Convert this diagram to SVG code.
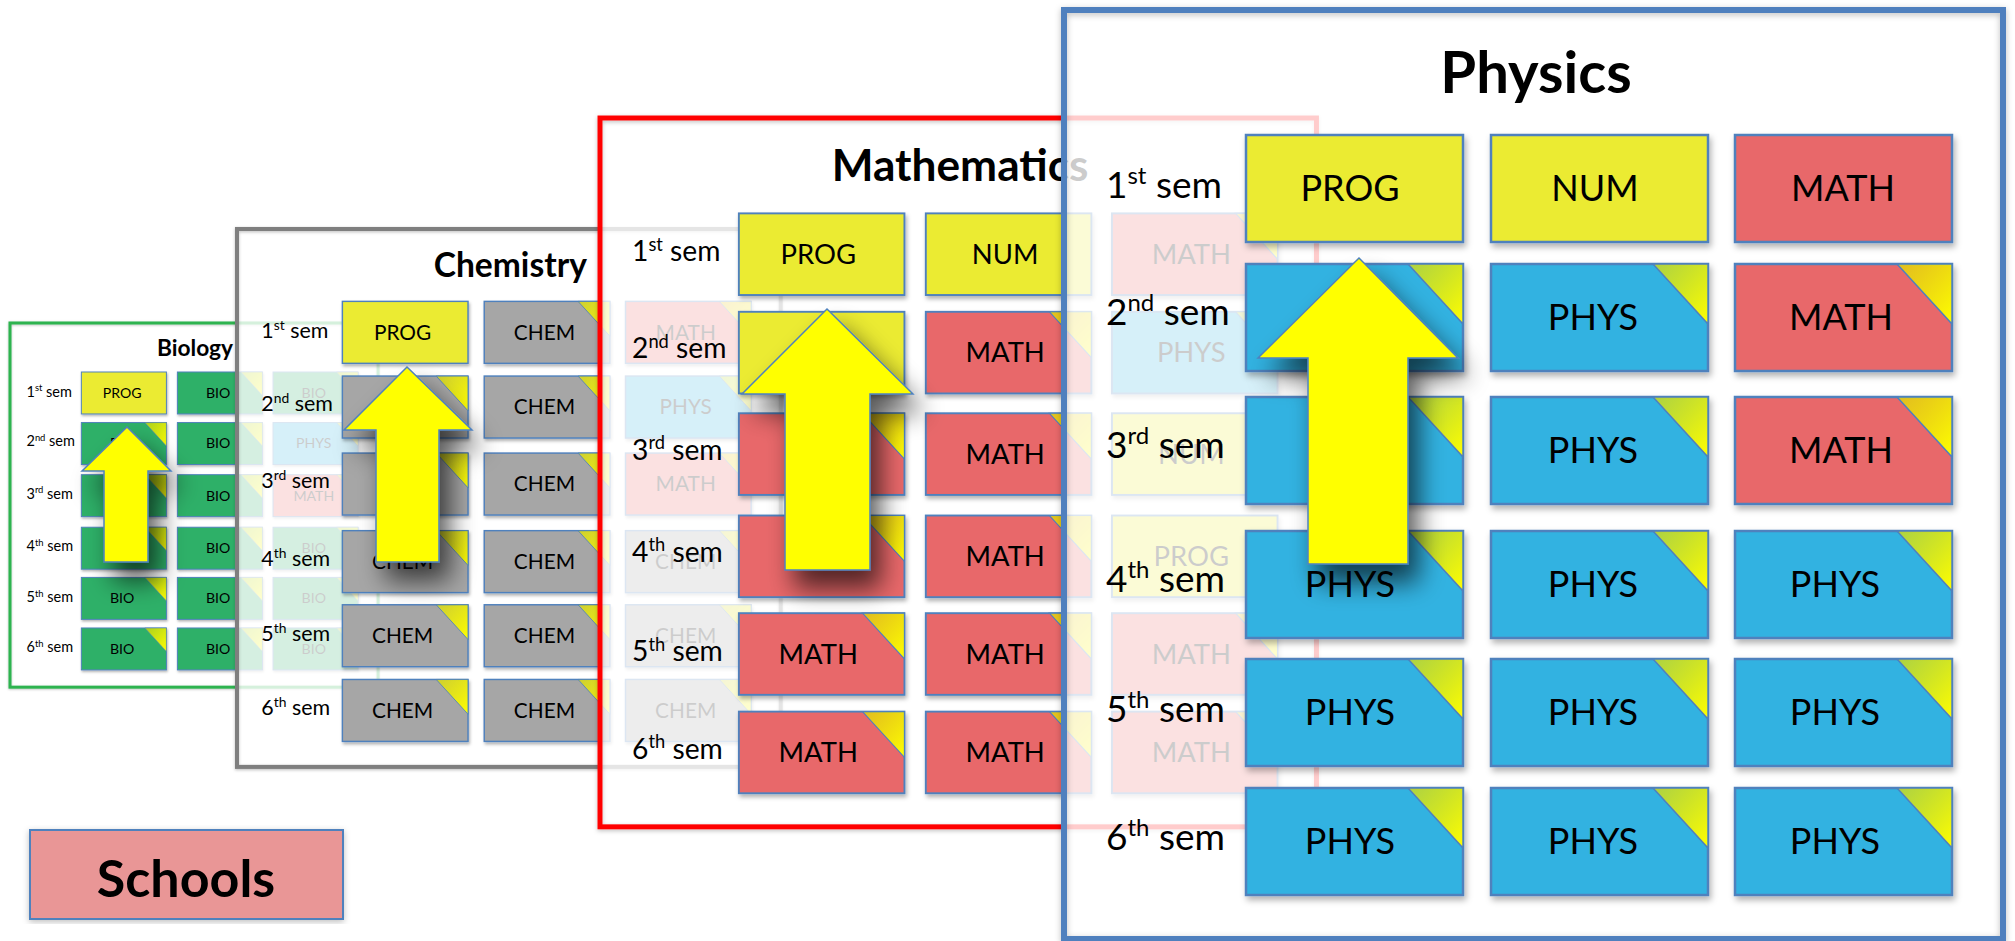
<svg xmlns="http://www.w3.org/2000/svg" xmlns:xlink="http://www.w3.org/1999/xlink" width="2015" height="941" viewBox="0 0 2015 941">
<defs>
<style>
text{font-family:Lato,"Liberation Sans",sans-serif;fill:#000}
.pf{fill:#fff;fill-opacity:0.8}
.fr{fill:none}
.title{font-size:58px;font-weight:bold;text-anchor:middle}
.lbl{font-size:37px}
.sup{font-size:24px}
.t{stroke:#4F81BD;stroke-width:2.5;filter:url(#ts)}
.y{fill:#EBEB33}.b{fill:#31B2E1}.r{fill:#E8686A}.g{fill:#A6A6A6}.gr{fill:#2DB067}
.fold{fill:url(#fg);stroke:#4F81BD;stroke-width:1.5}
.tt{font-size:36px;text-anchor:middle}
.arrow{fill:#FFFF00;stroke:#4F81BD;stroke-width:1.5;filter:url(#as)}
</style>
<linearGradient id="fg" x1="0" y1="0" x2="1" y2="1">
<stop offset="0" stop-color="#E0E000" stop-opacity="0.7"/>
<stop offset="1" stop-color="#FFFF00" stop-opacity="1"/>
</linearGradient>
<filter id="ts" x="-10%" y="-10%" width="130%" height="140%">
<feDropShadow dx="2" dy="4" stdDeviation="3" flood-color="#000" flood-opacity="0.3"/>
</filter>
<filter id="as" x="-60%" y="-30%" width="220%" height="170%">
<feGaussianBlur in="SourceAlpha" stdDeviation="13"/>
<feOffset dx="10" dy="18"/>
<feComponentTransfer><feFuncA type="linear" slope="0.65"/></feComponentTransfer>
<feMerge><feMergeNode/><feMergeNode in="SourceGraphic"/></feMerge>
</filter>
<filter id="fs" x="-5%" y="-5%" width="110%" height="110%">
<feDropShadow dx="0" dy="2" stdDeviation="3" flood-color="#000" flood-opacity="0.25"/>
</filter>
</defs>
<rect width="2015" height="941" fill="#fff"/>

<!-- Biology -->
<g id="biology" transform="translate(10,323) scale(0.392)">
<rect class="pf" width="939" height="929"/>
<rect class="fr" width="939" height="929" stroke="#2DB34F" stroke-width="7.7" filter="url(#fs)"/>
<text class="title" x="472" y="83">Biology</text>
<text class="lbl" x="42" y="188">1<tspan class="sup" dy="-14">st</tspan><tspan dy="14"> sem</tspan></text>
<text class="lbl" x="42" y="315">2<tspan class="sup" dy="-14">nd</tspan><tspan dy="14"> sem</tspan></text>
<text class="lbl" x="42" y="448">3<tspan class="sup" dy="-14">rd</tspan><tspan dy="14"> sem</tspan></text>
<text class="lbl" x="42" y="582">4<tspan class="sup" dy="-14">th</tspan><tspan dy="14"> sem</tspan></text>
<text class="lbl" x="42" y="712">5<tspan class="sup" dy="-14">th</tspan><tspan dy="14"> sem</tspan></text>
<text class="lbl" x="42" y="840">6<tspan class="sup" dy="-14">th</tspan><tspan dy="14"> sem</tspan></text>
<g id="bio-r1c1" transform="translate(182,125)"><rect class="t y" width="217" height="107"/><text class="tt" x="104" y="66">PROG</text></g>
<g id="bio-r1c2" transform="translate(427,125)"><rect class="t gr" width="217" height="107"/><path class="fold" d="M162,0H217V60Z"/><text class="tt" x="104" y="66">BIO</text></g>
<g id="bio-r1c3" transform="translate(671,125)"><rect class="t gr" width="217" height="107"/><path class="fold" d="M162,0H217V60Z"/><text class="tt" x="104" y="66">BIO</text></g>
<g id="bio-r2c1" transform="translate(182,254)"><rect class="t gr" width="217" height="107"/><path class="fold" d="M162,0H217V60Z"/><text class="tt" x="104" y="66">BIO</text></g>
<g id="bio-r2c2" transform="translate(427,254)"><rect class="t gr" width="217" height="107"/><path class="fold" d="M162,0H217V60Z"/><text class="tt" x="104" y="66">BIO</text></g>
<g id="bio-r2c3" transform="translate(671,254)"><rect class="t b" width="217" height="107"/><path class="fold" d="M162,0H217V60Z"/><text class="tt" x="104" y="66">PHYS</text></g>
<g id="bio-r3c1" transform="translate(182,387)"><rect class="t gr" width="217" height="107"/><path class="fold" d="M162,0H217V60Z"/></g>
<g id="bio-r3c2" transform="translate(427,387)"><rect class="t gr" width="217" height="107"/><path class="fold" d="M162,0H217V60Z"/><text class="tt" x="104" y="66">BIO</text></g>
<g id="bio-r3c3" transform="translate(671,387)"><rect class="t r" width="217" height="107"/><path class="fold" d="M162,0H217V60Z"/><text class="tt" x="104" y="66">MATH</text></g>
<g id="bio-r4c1" transform="translate(182,521)"><rect class="t gr" width="217" height="107"/><path class="fold" d="M162,0H217V60Z"/></g>
<g id="bio-r4c2" transform="translate(427,521)"><rect class="t gr" width="217" height="107"/><path class="fold" d="M162,0H217V60Z"/><text class="tt" x="104" y="66">BIO</text></g>
<g id="bio-r4c3" transform="translate(671,521)"><rect class="t gr" width="217" height="107"/><path class="fold" d="M162,0H217V60Z"/><text class="tt" x="104" y="66">BIO</text></g>
<g id="bio-r5c1" transform="translate(182,649)"><rect class="t gr" width="217" height="107"/><path class="fold" d="M162,0H217V60Z"/><text class="tt" x="104" y="66">BIO</text></g>
<g id="bio-r5c2" transform="translate(427,649)"><rect class="t gr" width="217" height="107"/><path class="fold" d="M162,0H217V60Z"/><text class="tt" x="104" y="66">BIO</text></g>
<g id="bio-r5c3" transform="translate(671,649)"><rect class="t gr" width="217" height="107"/><path class="fold" d="M162,0H217V60Z"/><text class="tt" x="104" y="66">BIO</text></g>
<g id="bio-r6c1" transform="translate(182,778)"><rect class="t gr" width="217" height="107"/><path class="fold" d="M162,0H217V60Z"/><text class="tt" x="104" y="66">BIO</text></g>
<g id="bio-r6c2" transform="translate(427,778)"><rect class="t gr" width="217" height="107"/><path class="fold" d="M162,0H217V60Z"/><text class="tt" x="104" y="66">BIO</text></g>
<g id="bio-r6c3" transform="translate(671,778)"><rect class="t gr" width="217" height="107"/><path class="fold" d="M162,0H217V60Z"/><text class="tt" x="104" y="66">BIO</text></g>
</g>
<g id="bio-arrow"><path class="arrow" d="M127,427 L171,471 L148,471 L148,562 L104,562 L104,471 L82,471 Z"/></g>

<!-- Chemistry -->
<g id="chemistry" transform="translate(237,229) scale(0.579)">
<rect class="pf" width="939" height="929"/>
<rect class="fr" width="939" height="929" stroke="#7F7F7F" stroke-width="7" filter="url(#fs)"/>
<text class="title" x="472" y="83">Chemistry</text>
<text class="lbl" x="42" y="188">1<tspan class="sup" dy="-14">st</tspan><tspan dy="14"> sem</tspan></text>
<text class="lbl" x="42" y="315">2<tspan class="sup" dy="-14">nd</tspan><tspan dy="14"> sem</tspan></text>
<text class="lbl" x="42" y="448">3<tspan class="sup" dy="-14">rd</tspan><tspan dy="14"> sem</tspan></text>
<text class="lbl" x="42" y="582">4<tspan class="sup" dy="-14">th</tspan><tspan dy="14"> sem</tspan></text>
<text class="lbl" x="42" y="712">5<tspan class="sup" dy="-14">th</tspan><tspan dy="14"> sem</tspan></text>
<text class="lbl" x="42" y="840">6<tspan class="sup" dy="-14">th</tspan><tspan dy="14"> sem</tspan></text>
<g id="chem-r1c1" transform="translate(182,125)"><rect class="t y" width="217" height="107"/><text class="tt" x="104" y="66">PROG</text></g>
<g id="chem-r1c2" transform="translate(427,125)"><rect class="t g" width="217" height="107"/><path class="fold" d="M162,0H217V60Z"/><text class="tt" x="104" y="66">CHEM</text></g>
<g id="chem-r1c3" transform="translate(671,125)"><rect class="t r" width="217" height="107"/><path class="fold" d="M162,0H217V60Z"/><text class="tt" x="104" y="66">MATH</text></g>
<g id="chem-r2c1" transform="translate(182,254)"><rect class="t g" width="217" height="107"/><path class="fold" d="M162,0H217V60Z"/></g>
<g id="chem-r2c2" transform="translate(427,254)"><rect class="t g" width="217" height="107"/><path class="fold" d="M162,0H217V60Z"/><text class="tt" x="104" y="66">CHEM</text></g>
<g id="chem-r2c3" transform="translate(671,254)"><rect class="t b" width="217" height="107"/><path class="fold" d="M162,0H217V60Z"/><text class="tt" x="104" y="66">PHYS</text></g>
<g id="chem-r3c1" transform="translate(182,387)"><rect class="t g" width="217" height="107"/><path class="fold" d="M162,0H217V60Z"/></g>
<g id="chem-r3c2" transform="translate(427,387)"><rect class="t g" width="217" height="107"/><path class="fold" d="M162,0H217V60Z"/><text class="tt" x="104" y="66">CHEM</text></g>
<g id="chem-r3c3" transform="translate(671,387)"><rect class="t r" width="217" height="107"/><path class="fold" d="M162,0H217V60Z"/><text class="tt" x="104" y="66">MATH</text></g>
<g id="chem-r4c1" transform="translate(182,521)"><rect class="t g" width="217" height="107"/><path class="fold" d="M162,0H217V60Z"/><text class="tt" x="104" y="66">CHEM</text></g>
<g id="chem-r4c2" transform="translate(427,521)"><rect class="t g" width="217" height="107"/><path class="fold" d="M162,0H217V60Z"/><text class="tt" x="104" y="66">CHEM</text></g>
<g id="chem-r4c3" transform="translate(671,521)"><rect class="t g" width="217" height="107"/><path class="fold" d="M162,0H217V60Z"/><text class="tt" x="104" y="66">CHEM</text></g>
<g id="chem-r5c1" transform="translate(182,649)"><rect class="t g" width="217" height="107"/><path class="fold" d="M162,0H217V60Z"/><text class="tt" x="104" y="66">CHEM</text></g>
<g id="chem-r5c2" transform="translate(427,649)"><rect class="t g" width="217" height="107"/><path class="fold" d="M162,0H217V60Z"/><text class="tt" x="104" y="66">CHEM</text></g>
<g id="chem-r5c3" transform="translate(671,649)"><rect class="t g" width="217" height="107"/><path class="fold" d="M162,0H217V60Z"/><text class="tt" x="104" y="66">CHEM</text></g>
<g id="chem-r6c1" transform="translate(182,778)"><rect class="t g" width="217" height="107"/><path class="fold" d="M162,0H217V60Z"/><text class="tt" x="104" y="66">CHEM</text></g>
<g id="chem-r6c2" transform="translate(427,778)"><rect class="t g" width="217" height="107"/><path class="fold" d="M162,0H217V60Z"/><text class="tt" x="104" y="66">CHEM</text></g>
<g id="chem-r6c3" transform="translate(671,778)"><rect class="t g" width="217" height="107"/><path class="fold" d="M162,0H217V60Z"/><text class="tt" x="104" y="66">CHEM</text></g>
</g>
<g id="chem-arrow"><path class="arrow" d="M407,367 L472,430 L439,430 L439,562 L376,562 L376,430 L344,430 Z"/></g>

<!-- Mathematics -->
<g id="mathematics" transform="translate(600,118) scale(0.763)">
<rect class="pf" width="939" height="929"/>
<rect class="fr" width="939" height="929" stroke="#FF0000" stroke-width="6.5" filter="url(#fs)"/>
<text class="title" x="472" y="83">Mathematics</text>
<text class="lbl" x="42" y="188">1<tspan class="sup" dy="-14">st</tspan><tspan dy="14"> sem</tspan></text>
<text class="lbl" x="42" y="315">2<tspan class="sup" dy="-14">nd</tspan><tspan dy="14"> sem</tspan></text>
<text class="lbl" x="42" y="448">3<tspan class="sup" dy="-14">rd</tspan><tspan dy="14"> sem</tspan></text>
<text class="lbl" x="42" y="582">4<tspan class="sup" dy="-14">th</tspan><tspan dy="14"> sem</tspan></text>
<text class="lbl" x="42" y="712">5<tspan class="sup" dy="-14">th</tspan><tspan dy="14"> sem</tspan></text>
<text class="lbl" x="42" y="840">6<tspan class="sup" dy="-14">th</tspan><tspan dy="14"> sem</tspan></text>
<g id="math-r1c1" transform="translate(182,125)"><rect class="t y" width="217" height="107"/><text class="tt" x="104" y="66">PROG</text></g>
<g id="math-r1c2" transform="translate(427,125)"><rect class="t y" width="217" height="107"/><text class="tt" x="104" y="66">NUM</text></g>
<g id="math-r1c3" transform="translate(671,125)"><rect class="t r" width="217" height="107"/><path class="fold" d="M162,0H217V60Z"/><text class="tt" x="104" y="66">MATH</text></g>
<g id="math-r2c1" transform="translate(182,254)"><rect class="t y" width="217" height="107"/></g>
<g id="math-r2c2" transform="translate(427,254)"><rect class="t r" width="217" height="107"/><path class="fold" d="M162,0H217V60Z"/><text class="tt" x="104" y="66">MATH</text></g>
<g id="math-r2c3" transform="translate(671,254)"><rect class="t b" width="217" height="107"/><path class="fold" d="M162,0H217V60Z"/><text class="tt" x="104" y="66">PHYS</text></g>
<g id="math-r3c1" transform="translate(182,387)"><rect class="t r" width="217" height="107"/><path class="fold" d="M162,0H217V60Z"/></g>
<g id="math-r3c2" transform="translate(427,387)"><rect class="t r" width="217" height="107"/><path class="fold" d="M162,0H217V60Z"/><text class="tt" x="104" y="66">MATH</text></g>
<g id="math-r3c3" transform="translate(671,387)"><rect class="t y" width="217" height="107"/><text class="tt" x="104" y="66">NUM</text></g>
<g id="math-r4c1" transform="translate(182,521)"><rect class="t r" width="217" height="107"/><path class="fold" d="M162,0H217V60Z"/></g>
<g id="math-r4c2" transform="translate(427,521)"><rect class="t r" width="217" height="107"/><path class="fold" d="M162,0H217V60Z"/><text class="tt" x="104" y="66">MATH</text></g>
<g id="math-r4c3" transform="translate(671,521)"><rect class="t y" width="217" height="107"/><text class="tt" x="104" y="66">PROG</text></g>
<g id="math-r5c1" transform="translate(182,649)"><rect class="t r" width="217" height="107"/><path class="fold" d="M162,0H217V60Z"/><text class="tt" x="104" y="66">MATH</text></g>
<g id="math-r5c2" transform="translate(427,649)"><rect class="t r" width="217" height="107"/><path class="fold" d="M162,0H217V60Z"/><text class="tt" x="104" y="66">MATH</text></g>
<g id="math-r5c3" transform="translate(671,649)"><rect class="t r" width="217" height="107"/><path class="fold" d="M162,0H217V60Z"/><text class="tt" x="104" y="66">MATH</text></g>
<g id="math-r6c1" transform="translate(182,778)"><rect class="t r" width="217" height="107"/><path class="fold" d="M162,0H217V60Z"/><text class="tt" x="104" y="66">MATH</text></g>
<g id="math-r6c2" transform="translate(427,778)"><rect class="t r" width="217" height="107"/><path class="fold" d="M162,0H217V60Z"/><text class="tt" x="104" y="66">MATH</text></g>
<g id="math-r6c3" transform="translate(671,778)"><rect class="t r" width="217" height="107"/><path class="fold" d="M162,0H217V60Z"/><text class="tt" x="104" y="66">MATH</text></g>
</g>
<g id="math-arrow"><path class="arrow" d="M827,309 L913,394 L870,394 L870,570 L785,570 L785,394 L742,394 Z"/></g>

<!-- Physics -->
<g id="physics" transform="translate(1064,10)">
<rect class="pf" width="939" height="929"/>
<rect class="fr" width="939" height="929" stroke="#5080BE" stroke-width="6" filter="url(#fs)"/>
<text class="title" x="472" y="83">Physics</text>
<text class="lbl" x="42" y="188">1<tspan class="sup" dy="-14">st</tspan><tspan dy="14"> sem</tspan></text>
<text class="lbl" x="42" y="315">2<tspan class="sup" dy="-14">nd</tspan><tspan dy="14"> sem</tspan></text>
<text class="lbl" x="42" y="448">3<tspan class="sup" dy="-14">rd</tspan><tspan dy="14"> sem</tspan></text>
<text class="lbl" x="42" y="582">4<tspan class="sup" dy="-14">th</tspan><tspan dy="14"> sem</tspan></text>
<text class="lbl" x="42" y="712">5<tspan class="sup" dy="-14">th</tspan><tspan dy="14"> sem</tspan></text>
<text class="lbl" x="42" y="840">6<tspan class="sup" dy="-14">th</tspan><tspan dy="14"> sem</tspan></text>
<g id="phys-r1c1" transform="translate(182,125)"><rect class="t y" width="217" height="107"/><text class="tt" x="104" y="66">PROG</text></g>
<g id="phys-r1c2" transform="translate(427,125)"><rect class="t y" width="217" height="107"/><text class="tt" x="104" y="66">NUM</text></g>
<g id="phys-r1c3" transform="translate(671,125)"><rect class="t r" width="217" height="107"/><text class="tt" x="108" y="66">MATH</text></g>
<g id="phys-r2c1" transform="translate(182,254)"><rect class="t b" width="217" height="107"/><path class="fold" d="M162,0H217V60Z"/></g>
<g id="phys-r2c2" transform="translate(427,254)"><rect class="t b" width="217" height="107"/><path class="fold" d="M162,0H217V60Z"/><text class="tt" x="102" y="66">PHYS</text></g>
<g id="phys-r2c3" transform="translate(671,254)"><rect class="t r" width="217" height="107"/><path class="fold" d="M162,0H217V60Z"/><text class="tt" x="106" y="66">MATH</text></g>
<g id="phys-r3c1" transform="translate(182,387)"><rect class="t b" width="217" height="107"/><path class="fold" d="M162,0H217V60Z"/></g>
<g id="phys-r3c2" transform="translate(427,387)"><rect class="t b" width="217" height="107"/><path class="fold" d="M162,0H217V60Z"/><text class="tt" x="102" y="66">PHYS</text></g>
<g id="phys-r3c3" transform="translate(671,387)"><rect class="t r" width="217" height="107"/><path class="fold" d="M162,0H217V60Z"/><text class="tt" x="106" y="66">MATH</text></g>
<g id="phys-r4c1" transform="translate(182,521)"><rect class="t b" width="217" height="107"/><path class="fold" d="M162,0H217V60Z"/><text class="tt" x="104" y="66">PHYS</text></g>
<g id="phys-r4c2" transform="translate(427,521)"><rect class="t b" width="217" height="107"/><path class="fold" d="M162,0H217V60Z"/><text class="tt" x="102" y="66">PHYS</text></g>
<g id="phys-r4c3" transform="translate(671,521)"><rect class="t b" width="217" height="107"/><path class="fold" d="M162,0H217V60Z"/><text class="tt" x="100" y="66">PHYS</text></g>
<g id="phys-r5c1" transform="translate(182,649)"><rect class="t b" width="217" height="107"/><path class="fold" d="M162,0H217V60Z"/><text class="tt" x="104" y="66">PHYS</text></g>
<g id="phys-r5c2" transform="translate(427,649)"><rect class="t b" width="217" height="107"/><path class="fold" d="M162,0H217V60Z"/><text class="tt" x="102" y="66">PHYS</text></g>
<g id="phys-r5c3" transform="translate(671,649)"><rect class="t b" width="217" height="107"/><path class="fold" d="M162,0H217V60Z"/><text class="tt" x="100" y="66">PHYS</text></g>
<g id="phys-r6c1" transform="translate(182,778)"><rect class="t b" width="217" height="107"/><path class="fold" d="M162,0H217V60Z"/><text class="tt" x="104" y="66">PHYS</text></g>
<g id="phys-r6c2" transform="translate(427,778)"><rect class="t b" width="217" height="107"/><path class="fold" d="M162,0H217V60Z"/><text class="tt" x="102" y="66">PHYS</text></g>
<g id="phys-r6c3" transform="translate(671,778)"><rect class="t b" width="217" height="107"/><path class="fold" d="M162,0H217V60Z"/><text class="tt" x="100" y="66">PHYS</text></g>
</g>
<g id="phys-arrow"><path class="arrow" d="M1359,258 L1458,358 L1408,358 L1408,564 L1308,564 L1308,358 L1258,358 Z"/></g>

<!-- Legend -->
<g id="schools">
<rect x="30" y="830" width="313" height="89" fill="#E99696" stroke="#4F81BD" stroke-width="2" filter="url(#fs)"/>
<text x="186" y="897" font-size="52" font-weight="bold" text-anchor="middle">Schools</text>
</g>
</svg>
